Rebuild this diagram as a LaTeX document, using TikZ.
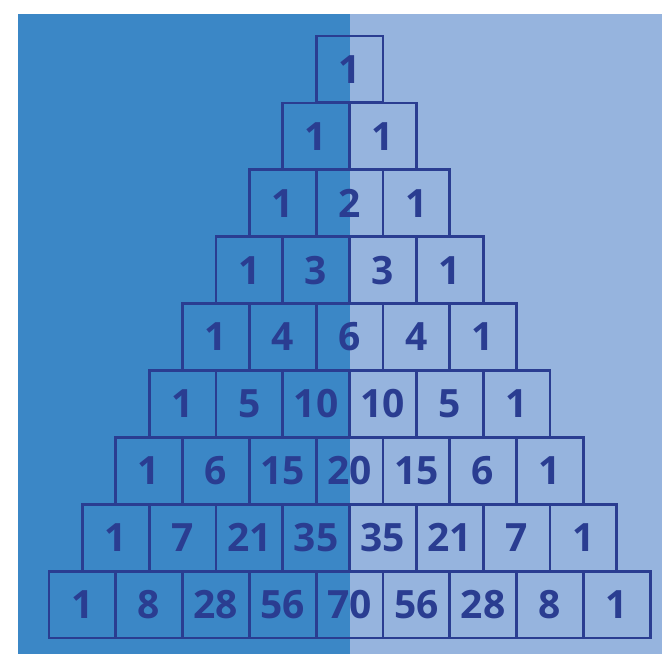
\documentclass[tikz,border=0pt]{standalone}
\usepackage{fontspec}
\setsansfont{Open Sans}
\usepackage{tikz}
\definecolor{paldark}{RGB}{59,135,198}
\definecolor{pallight}{RGB}{150,180,222}
\definecolor{palink}{RGB}{42,61,145}
\tikzset{
  cell/.style={
    draw=palink,
    line width=2.8pt,
    minimum width=66.8pt,
    minimum height=66.8pt,
    inner sep=0pt,
    font=\fontsize{39}{39}\selectfont\sffamily\bfseries,
    text=palink
  }
}

\begin{document}
\begin{tikzpicture}[x=1pt, y=-1pt]
        \useasboundingbox (0,0) rectangle (662,654);
        \fill[paldark] (18,14) rectangle (349.5,654);
        \fill[pallight] (349.5,14) rectangle (662,654);

        % rows of the triangle
        \foreach \r/\vals in {0/{1}, 1/{1,1}, 2/{1,2,1}, 3/{1,3,3,1},
            4/{1,4,6,4,1}, 5/{1,5,10,10,5,1}, 6/{1,6,15,20,15,6,1},
            7/{1,7,21,35,35,21,7,1}, 8/{1,8,28,56,70,56,28,8,1}}{
          \foreach \v [count=\k from 0] in \vals {
            \node[cell] (c-\r-\k) at ({349.5+(\k-\r/2)*66.8}, {69.4+\r*66.9}) {\v};
          }
        }
      \end{tikzpicture}
\end{document}
